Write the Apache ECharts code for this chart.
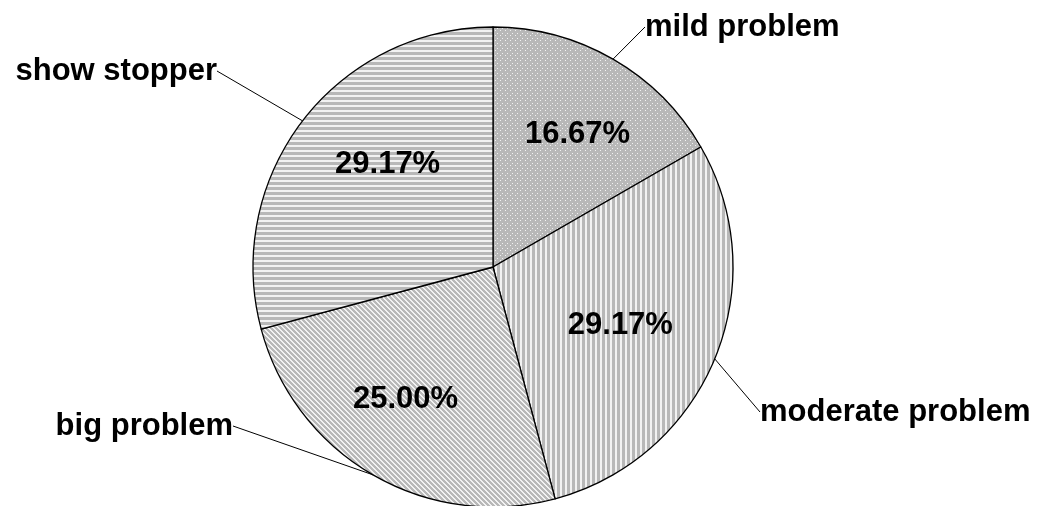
<!DOCTYPE html>
<html>
<head>
<meta charset="utf-8">
<script src="https://cdn.jsdelivr.net/npm/echarts@6/dist/echarts.min.js"></script>
<style>
html, body { margin: 0; padding: 0; background: #fff; }
#chart { width: 1039px; height: 506px; }
</style>
</head>
<body>
<div id="chart"></div>
<script>
var categories = ['mild problem', 'moderate problem', 'big problem', 'show stopper'];
var counts = [4, 7, 6, 7];

var total = counts.reduce(function(a, b) { return a + b; }, 0);

// small tiles for the hatch fills
function tile(kind) {
    var c = document.createElement('canvas');
    var n = 5;
    c.width = n;
    c.height = n;
    var g = c.getContext('2d');
    g.fillStyle = '#b8b8b8';
    g.fillRect(0, 0, n, n);
    g.fillStyle = '#f2f2f2';
    var x, y;
    for (y = 0; y < n; y++) {
        for (x = 0; x < n; x++) {
            var on = false;
            if (kind == 'h') on = y < 2;
            if (kind == 'v') on = x < 2;
            if (kind == 'd') on = ((x - y + n) % n) < 2;
            if (kind == 'dot') on = (x == 0 && y == 0) || (x == 2 && y == 3);
            if (on) g.fillRect(x, y, 1, 1);
        }
    }
    return { image: c, repeat: 'repeat' };
}
var fills = [tile('dot'), tile('v'), tile('d'), tile('h')];

// where the name labels sit
var namePos = [
    { x: 645, y: 27, align: 'left' },
    { x: 760, y: 412, align: 'left' },
    { x: 233, y: 426, align: 'right' },
    { x: 217, y: 71, align: 'right' }
];
// nudges for the percent labels
var pctShift = [[8, 0], [-14, 0], [-11, 0], [16, -9]];

var font = {
    fontFamily: 'Liberation Sans, Arial, sans-serif',
    fontWeight: 'bold',
    fontSize: 31,
    color: '#000'
};

var chart = echarts.init(document.getElementById('chart'));

var data = categories.map(function(name, i) {
    return { name: name, value: counts[i], itemStyle: { color: fills[i] } };
});
var dataInner = categories.map(function(name, i) {
    return { name: name, value: counts[i] };
});

chart.setOption({
    animation: false,
    series: [{
        type: 'pie',
        center: [493, 267],
        radius: [0, 240],
        startAngle: 90,
        clockwise: true,
        data: data,
        itemStyle: { borderColor: '#000', borderWidth: 1.3 },
        label: Object.assign({ show: true, position: 'outside', formatter: '{b}' }, font),
        labelLine: { show: true, length: 20, length2: 0, lineStyle: { color: '#000', width: 1 } },
        labelLayout: function(p) {
            var q = namePos[p.dataIndex];
            return { x: q.x, y: q.y, align: q.align, verticalAlign: 'middle' };
        },
        emphasis: { disabled: true }
    }, {
        type: 'pie',
        center: [493, 267],
        radius: [0, 300],
        startAngle: 90,
        clockwise: true,
        silent: true,
        data: dataInner,
        itemStyle: { color: 'rgba(0,0,0,0)', borderWidth: 0 },
        label: Object.assign({
            show: true,
            position: 'inside',
            formatter: function(p) { return (p.value / total * 100).toFixed(2) + '%'; }
        }, font),
        labelLine: { show: false },
        labelLayout: function(p) {
            var s = pctShift[p.dataIndex];
            return { dx: s[0], dy: s[1] };
        }
    }]
});
</script>
</body>
</html>
